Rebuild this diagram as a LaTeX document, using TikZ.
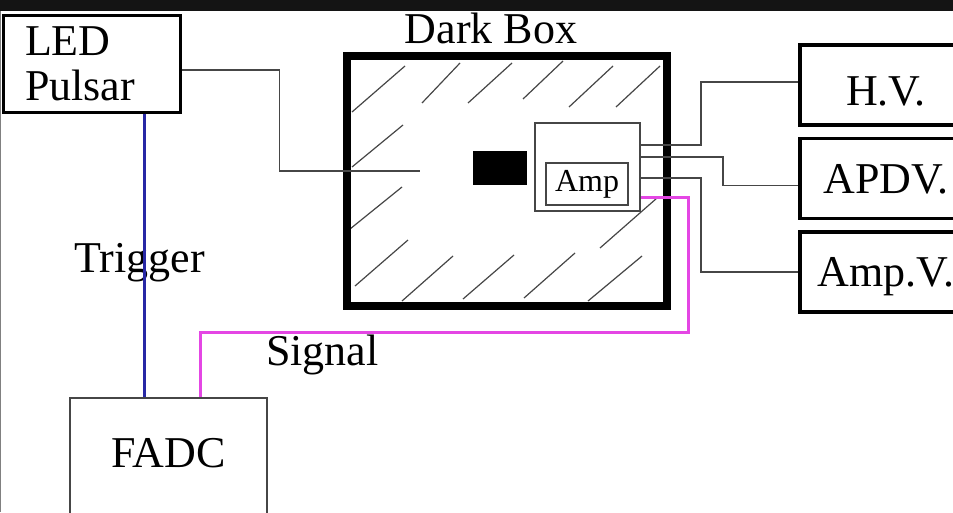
\documentclass[tikz,border=0pt]{standalone}
\usepackage{fontspec}
\setmainfont{Liberation Serif}
\usepackage{xcolor}
\usetikzlibrary{positioning}
\definecolor{azul}{RGB}{40,40,165}
\definecolor{rosa}{RGB}{228,70,228}
\definecolor{gris}{RGB}{70,70,70}

\begin{document}
\begin{tikzpicture}[
    x=1pt, y=-1pt,
    font=\fontsize{44}{45}\selectfont,
    caja/.style={draw, line width=3pt, inner sep=0pt},
    fuente/.style={draw, line width=3.5pt, minimum width=172pt, minimum height=80pt,
                   inner sep=0pt, text height=29pt, text depth=0pt},
    bloque/.style={draw=gris, line width=1.6pt, inner sep=0pt},
    cable/.style={gris, line width=1.6pt},
    rayado/.style={gris, line width=1.2pt},
    disparo/.style={azul, line width=3pt},
    senal/.style={rosa, line width=3pt},
    node distance=10pt
  ]
    \useasboundingbox (0,0) rectangle (953,512);
    \clip (0,0) rectangle (953,512);
    \fill[black!92] (0,0) rectangle (953,11);
    \draw[gray, line width=1pt] (0.5,11) -- (0.5,512);

    % fuentes y pulsador
    \node[caja, minimum width=177pt, minimum height=97pt, text width=133pt,
          inner xsep=22pt, align=left] (led) at (91.5,63.5) {LED\\Pulsar};
    \node[fuente, text height=40pt] (hv) at (886,85) {H.V.};
    \node[fuente, below=of hv] (apdv) {APDV.};
    \node[fuente, below=of apdv] (ampv) {Amp.V.};

    % caja oscura
    \draw[rayado] (352,112) -- (405,66)  (422,103) -- (460,63)  (468,103) -- (512,63)
                  (523,99) -- (563,61)   (569,107) -- (613,66)  (616,107) -- (660,66)
                  (352,167) -- (403,125) (350,229) -- (402,187)
                  (355,286) -- (408,240) (402,301) -- (453,256) (463,299) -- (514,255)
                  (524,298) -- (575,253) (588,301) -- (642,256) (600,248) -- (657,198);
    \node[draw, line width=8pt, minimum width=320pt, minimum height=250pt] (oscura) at (507,181) {};
    \node[anchor=base] (titulo) at (491,43) {Dark Box};
    \node[fill, minimum width=54pt, minimum height=34pt, inner sep=0pt] (apd) at (500,168) {};
    \node[bloque, fill=white, minimum width=105pt, minimum height=88pt] (modulo) at (587.5,167) {};
    \node[bloque, minimum width=82pt, minimum height=42pt,
          font=\fontsize{32}{32}\selectfont] (amp) at (587,184) {Amp};
    \coordinate (fibra) at (420,171);

    \node[bloque, line width=2pt, minimum width=197pt, text height=69pt, text depth=53pt]
        (fadc) at (168.5,459) {FADC};

    % etiquetas
    \node[anchor=base] (ltrig) at (139.5,272) {Trigger};
    \node[anchor=base] (lsen) at (322.5,365) {Signal};

    \draw[cable] ([yshift=-6.5pt]led.east) -- ++(98,0) |- (fibra);
    \draw[cable] ([yshift=22pt]modulo.east) -- ++(60,0) |- ([yshift=3pt]hv.west);
    \draw[cable] ([yshift=10pt]modulo.east) -- ++(82,0) |- ([yshift=-7pt]apdv.west);
    \draw[cable] ([yshift=-11pt]modulo.east) -- ++(60,0) |- (ampv.west);
    \draw[disparo] ([xshift=52.5pt]led.south) -- ([xshift=52.5pt]led.south |- fadc.north);
    \draw[senal] ([yshift=-30pt]modulo.east) -| (688,332) -| ([xshift=31.5pt]fadc.north);
  \end{tikzpicture}
\end{document}
